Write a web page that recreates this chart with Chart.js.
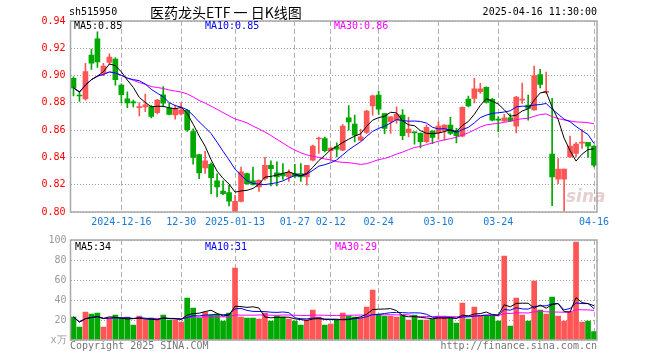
<!DOCTYPE html>
<html>
<head>
<meta charset="utf-8">
<script src="https://cdn.jsdelivr.net/npm/chart.js@4.4.1/dist/chart.umd.min.js"></script>
<style>
    html, body { margin: 0; padding: 0; background: #fff; }
    #wrap { position: relative; width: 660px; height: 360px; overflow: hidden;
            font-family: "DejaVu Sans Mono", monospace; font-size: 10px; }
    #wrap canvas { position: absolute; left: 0; top: 0; }
    .t { position: absolute; white-space: nowrap; line-height: 12px; }
</style>
</head>
<body>
<div id="wrap">
    <canvas id="klineChart" width="660" height="360"></canvas>
    <canvas id="volumeChart" width="660" height="360"></canvas>

    <div class="t" style="left:69px;top:6px;color:#000;">sh515950</div>
    <div class="t" style="left:150px;top:3px;line-height:18px;font-size:14px;font-family:'Noto Sans CJK SC',sans-serif;color:#000;">医药龙头ETF 一 日K线图</div>
    <div class="t" style="right:63px;top:6px;color:#000;">2025-04-16 11:30:00</div>

    <div class="t" id="ma5Label" style="left:74px;top:20px;color:#000;"></div>
    <div class="t" id="ma10Label" style="left:205px;top:20px;color:#0000ff;"></div>
    <div class="t" id="ma30Label" style="left:334px;top:20px;color:#ff00ff;"></div>

    <div class="t" id="vma5Label" style="left:75px;top:241px;color:#000;"></div>
    <div class="t" id="vma10Label" style="left:205px;top:241px;color:#0000ff;"></div>
    <div class="t" id="vma30Label" style="left:335px;top:241px;color:#ff00ff;"></div>

    <div class="t" style="left:566px;top:186px;line-height:20px;font:italic bold 17px 'DejaVu Sans',sans-serif;color:rgba(200,150,150,0.45);">sina</div>

    <div class="t" style="left:70px;top:340px;color:#777;">Copyright 2025 SINA.COM</div>
    <div class="t" style="right:63px;top:340px;color:#777;">http://finance.sina.com.cn</div>
</div>
<script>
// Trading days shown on the chart
const dates = [
    '2024-12-04', '2024-12-05', '2024-12-06', '2024-12-09', '2024-12-10', '2024-12-11', '2024-12-12', '2024-12-13',
    '2024-12-16', '2024-12-17', '2024-12-18', '2024-12-19', '2024-12-20', '2024-12-23', '2024-12-24', '2024-12-25',
    '2024-12-26', '2024-12-27', '2024-12-30', '2024-12-31', '2025-01-02', '2025-01-03', '2025-01-06', '2025-01-07',
    '2025-01-08', '2025-01-09', '2025-01-10', '2025-01-13', '2025-01-14', '2025-01-15', '2025-01-16', '2025-01-17',
    '2025-01-20', '2025-01-21', '2025-01-22', '2025-01-23', '2025-01-24', '2025-01-27', '2025-02-05', '2025-02-06',
    '2025-02-07', '2025-02-10', '2025-02-11', '2025-02-12', '2025-02-13', '2025-02-14', '2025-02-17', '2025-02-18',
    '2025-02-19', '2025-02-20', '2025-02-21', '2025-02-24', '2025-02-25', '2025-02-26', '2025-02-27', '2025-02-28',
    '2025-03-03', '2025-03-04', '2025-03-05', '2025-03-06', '2025-03-07', '2025-03-10', '2025-03-11', '2025-03-12',
    '2025-03-13', '2025-03-14', '2025-03-17', '2025-03-18', '2025-03-19', '2025-03-20', '2025-03-21', '2025-03-24',
    '2025-03-25', '2025-03-26', '2025-03-27', '2025-03-28', '2025-03-31', '2025-04-01', '2025-04-02', '2025-04-03',
    '2025-04-07', '2025-04-08', '2025-04-09', '2025-04-10', '2025-04-11', '2025-04-14', '2025-04-15', '2025-04-16'
];

const openPrices = [
    0.898, 0.8855, 0.8828, 0.915, 0.927, 0.902, 0.9096, 0.912, 0.893, 0.883,
    0.8805, 0.8765, 0.877, 0.8772, 0.8728, 0.8858, 0.876, 0.8711, 0.8718, 0.8745,
    0.859, 0.842, 0.8323, 0.835, 0.8228, 0.8154, 0.8142, 0.8005, 0.8078, 0.8282,
    0.8228, 0.8184, 0.8245, 0.8343, 0.8287, 0.8282, 0.8257, 0.8282, 0.8282, 0.8257,
    0.838, 0.8535, 0.8539, 0.8449, 0.848, 0.8453, 0.869, 0.8644, 0.8526, 0.8583,
    0.8778, 0.8857, 0.8722, 0.8662, 0.8674, 0.871, 0.8581, 0.8583, 0.8576, 0.8515,
    0.8593, 0.8581, 0.8596, 0.8637, 0.8593, 0.8556, 0.8828, 0.8833, 0.8882, 0.8914,
    0.8826, 0.8676, 0.8667, 0.8691, 0.863, 0.882, 0.8783, 0.8748, 0.9008, 0.8876,
    0.8424, 0.824, 0.824, 0.8404, 0.8429, 0.8505, 0.851, 0.8483
];
const highPrices = [
    0.899, 0.888, 0.909, 0.9195, 0.932, 0.909, 0.916, 0.913, 0.894, 0.888,
    0.882, 0.880, 0.8865, 0.878, 0.8825, 0.892, 0.8797, 0.8784, 0.880, 0.875,
    0.861, 0.842, 0.8445, 0.836, 0.828, 0.8228, 0.8196, 0.8122, 0.833, 0.8285,
    0.833, 0.8235, 0.840, 0.8375, 0.8368, 0.8355, 0.831, 0.835, 0.8355, 0.8343,
    0.849, 0.855, 0.855, 0.8478, 0.8507, 0.864, 0.878, 0.871, 0.8606, 0.8745,
    0.8857, 0.8886, 0.8722, 0.8699, 0.877, 0.875, 0.8694, 0.8588, 0.858, 0.8637,
    0.8595, 0.8662, 0.864, 0.8694, 0.8613, 0.877, 0.8849, 0.898, 0.8944, 0.8917,
    0.8833, 0.870, 0.8716, 0.872, 0.8848, 0.8945, 0.8857, 0.907, 0.9045, 0.9025,
    0.8833, 0.8392, 0.8314, 0.8556, 0.851, 0.8605, 0.851, 0.8485
];
const lowPrices = [
    0.885, 0.881, 0.882, 0.9045, 0.906, 0.900, 0.908, 0.893, 0.880, 0.8765,
    0.877, 0.8705, 0.8735, 0.869, 0.8718, 0.877, 0.8711, 0.8681, 0.871, 0.859,
    0.835, 0.8245, 0.8282, 0.8135, 0.811, 0.8127, 0.8044, 0.800, 0.8073, 0.8203,
    0.8196, 0.815, 0.8233, 0.8191, 0.8191, 0.8238, 0.8225, 0.825, 0.8225, 0.8196,
    0.8375, 0.8429, 0.8441, 0.838, 0.8404, 0.8449, 0.860, 0.8514, 0.8521, 0.8575,
    0.871, 0.8715, 0.8575, 0.8576, 0.865, 0.853, 0.855, 0.8497, 0.847, 0.8507,
    0.850, 0.8532, 0.8527, 0.8566, 0.8507, 0.855, 0.877, 0.880, 0.887, 0.8797,
    0.8667, 0.8588, 0.8662, 0.8662, 0.858, 0.8796, 0.8674, 0.8745, 0.891, 0.887,
    0.8047, 0.8208, 0.8007, 0.840, 0.8404, 0.8466, 0.840, 0.8331
];
const closePrices = [
    0.891, 0.885, 0.903, 0.909, 0.910, 0.907, 0.9135, 0.897, 0.886, 0.880,
    0.880, 0.877, 0.8785, 0.870, 0.882, 0.8797, 0.8716, 0.8752, 0.8748, 0.8603,
    0.840, 0.8286, 0.8375, 0.8252, 0.8184, 0.8135, 0.808, 0.8078, 0.8294, 0.8208,
    0.8203, 0.8233, 0.8343, 0.8318, 0.8257, 0.8265, 0.829, 0.8262, 0.8257, 0.8343,
    0.8483, 0.854, 0.845, 0.8468, 0.846, 0.863, 0.866, 0.8563, 0.8551, 0.8739,
    0.8852, 0.8754, 0.8612, 0.8698, 0.8716, 0.856, 0.8608, 0.858, 0.8515, 0.862,
    0.8547, 0.863, 0.8637, 0.8576, 0.856, 0.8767, 0.8777, 0.8902, 0.8902, 0.8804,
    0.8674, 0.8674, 0.8691, 0.8667, 0.8843, 0.8825, 0.876, 0.900, 0.8936, 0.8885,
    0.8257, 0.8314, 0.8314, 0.8483, 0.8498, 0.851, 0.8483, 0.8343
];
// Volume, unit 万
const volumes = [
    23, 13, 28, 26, 27, 13, 22, 25, 22, 23,
    15, 24, 20, 22, 20, 25, 20, 20, 18, 42,
    32, 22, 28, 25, 26, 19, 27, 72, 23, 22,
    22, 21, 27, 19, 24, 23, 21, 19, 15, 20,
    30, 23, 15, 16, 20, 27, 24, 23, 22, 33,
    50, 26, 24, 24, 23, 25, 20, 25, 20, 20,
    21, 24, 24, 22, 17, 37, 21, 33, 24, 25,
    24, 19, 84, 14, 42, 25, 19, 59, 30, 26,
    43, 24, 19, 28, 98, 18, 19, 8.5
];
const tickLabels = ['2024-12-16', '12-30', '2025-01-13', '01-27', '02-12', '02-24', '03-10', '03-24', '04-16'];

const UP_COLOR = '#ff5555';
const DOWN_COLOR = '#00a800';
const MONO = 'DejaVu Sans Mono';

function movingAverage(values, n) {
    return values.map((v, i) => {
        const win = values.slice(Math.max(0, i - n + 1), i + 1);
        return win.reduce((a, b) => a + b, 0) / win.length;
    });
}

const candleColors = dates.map((d, i) => closePrices[i] >= openPrices[i] ? UP_COLOR : DOWN_COLOR);
const tickText = dates.map(d => tickLabels.find(t => d.endsWith(t)) || '');

const ma5 = movingAverage(closePrices, 5);
const ma10 = movingAverage(closePrices, 10);
const ma30 = movingAverage(closePrices, 30);
const vma5 = movingAverage(volumes, 5);
const vma10 = movingAverage(volumes, 10);
const vma30 = movingAverage(volumes, 30);

document.getElementById('ma5Label').textContent = 'MA5:' + ma5[ma5.length - 1].toFixed(2);
document.getElementById('ma10Label').textContent = 'MA10:' + ma10[ma10.length - 1].toFixed(2);
document.getElementById('ma30Label').textContent = 'MA30:' + ma30[ma30.length - 1].toFixed(2);
document.getElementById('vma5Label').textContent = 'MA5:' + Math.floor(vma5[vma5.length - 1]);
document.getElementById('vma10Label').textContent = 'MA10:' + Math.floor(vma10[vma10.length - 1]);
document.getElementById('vma30Label').textContent = 'MA30:' + Math.floor(vma30[vma30.length - 1]);

// grey rectangle round each plot area
const framePlugin = {
    id: 'frame',
    afterDraw(chart) {
        const a = chart.chartArea;
        const ctx = chart.ctx;
        ctx.save();
        ctx.strokeStyle = '#a8a8a8';
        ctx.lineWidth = 1.5;
        ctx.strokeRect(a.left, a.top, a.right - a.left, a.bottom - a.top);
        ctx.restore();
    }
};

function maLine(label, data, color) {
    return {
        type: 'line',
        label: label,
        data: data,
        borderColor: color,
        borderWidth: 1,
        pointRadius: 0,
        tension: 0,
        fill: false,
        order: 0
    };
}

const xGrid = {
    offset: false,
    drawTicks: false,
    lineWidth: 1,
    color: ctx => tickText[ctx.index] ? '#b0b0b0' : 'rgba(0,0,0,0)'
};

function fixY(width) {
    return scale => {
        scale.width = width;
        scale.paddingTop = 0;
        scale.paddingBottom = 0;
    };
}

// Price panel (K line)
new Chart(document.getElementById('klineChart'), {
    type: 'bar',
    data: {
        labels: dates,
        datasets: [
            maLine('MA5', ma5, '#000000'),
            maLine('MA10', ma10, '#0000ff'),
            maLine('MA30', ma30, '#ff00ff'),
            {
                label: 'body',
                data: dates.map((d, i) => [openPrices[i], closePrices[i]]),
                backgroundColor: candleColors,
                barThickness: 5,
                minBarLength: 1,
                grouped: false,
                order: 1
            },
            {
                label: 'wick',
                data: dates.map((d, i) => [lowPrices[i], highPrices[i]]),
                backgroundColor: candleColors,
                barThickness: 1,
                grouped: false,
                order: 2
            }
        ]
    },
    options: {
        responsive: false,
        animation: false,
        events: [],
        layout: { padding: { left: 0, top: 21, right: 63, bottom: 128 } },
        plugins: {
            legend: { display: false },
            tooltip: { enabled: false }
        },
        scales: {
            x: {
                offset: true,
                grid: xGrid,
                border: { display: false, dash: [5, 3] },
                ticks: {
                    autoSkip: false,
                    maxRotation: 0,
                    padding: 4,
                    color: '#1a7ad4',
                    font: { family: MONO, size: 10 },
                    callback: (v, i) => tickText[i]
                },
                afterFit: scale => {
                    scale.height = 20;
                    scale.paddingLeft = 0;
                    scale.paddingRight = 0;
                }
            },
            y: {
                min: 0.80,
                max: 0.94,
                grid: { drawTicks: false, color: '#a0a0a0' },
                border: { display: false, dash: [1, 2] },
                ticks: {
                    stepSize: 0.02,
                    padding: 5,
                    color: '#ff0000',
                    font: { family: MONO, size: 10 },
                    callback: v => v.toFixed(2)
                },
                afterFit: fixY(70.5)
            }
        }
    },
    plugins: [framePlugin]
});

// Volume panel
new Chart(document.getElementById('volumeChart'), {
    type: 'bar',
    data: {
        labels: dates,
        datasets: [
            maLine('MA5', vma5, '#000000'),
            maLine('MA10', vma10, '#0000ff'),
            maLine('MA30', vma30, '#ff00ff'),
            {
                label: 'volume',
                data: volumes,
                backgroundColor: candleColors,
                barThickness: 5,
                order: 1
            }
        ]
    },
    options: {
        responsive: false,
        animation: false,
        events: [],
        layout: { padding: { left: 0, top: 240, right: 63, bottom: 20 } },
        plugins: {
            legend: { display: false },
            tooltip: { enabled: false }
        },
        scales: {
            x: {
                offset: true,
                grid: xGrid,
                border: { display: false, dash: [5, 3] },
                ticks: { display: false },
                afterFit: scale => {
                    scale.height = 0;
                    scale.paddingLeft = 0;
                    scale.paddingRight = 0;
                }
            },
            y: {
                min: 0,
                max: 100,
                grid: { drawTicks: false, color: '#a0a0a0' },
                border: { display: false, dash: [1, 2] },
                ticks: {
                    stepSize: 20,
                    padding: 4,
                    color: '#999999',
                    font: { family: MONO, size: 10 },
                    callback: v => v === 0 ? 'x万' : v
                },
                afterFit: fixY(70.5)
            }
        }
    },
    plugins: [framePlugin]
});
</script>
</body>
</html>
